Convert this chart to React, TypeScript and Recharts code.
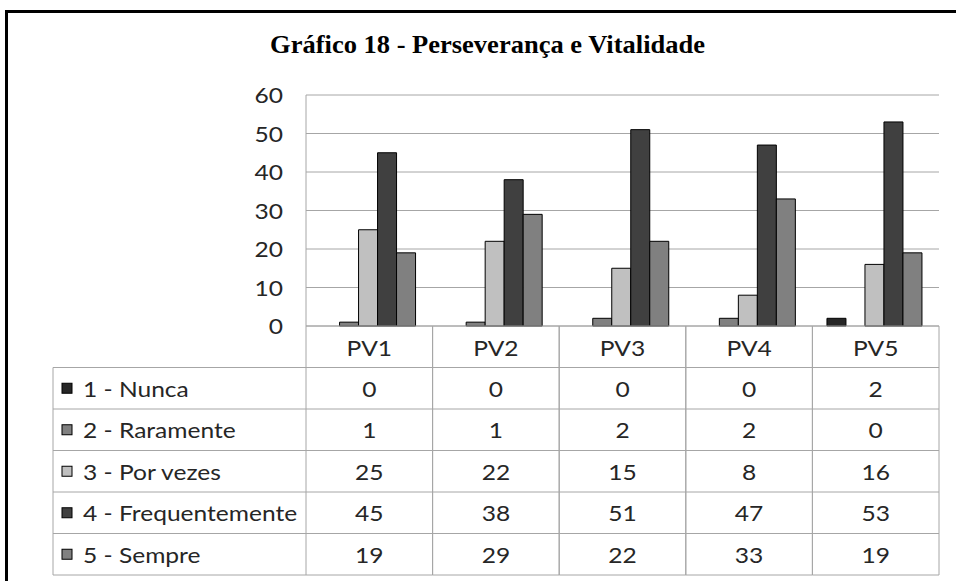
import React from 'react';
import { BarChart, Bar, XAxis, YAxis, CartesianGrid } from 'recharts';

const categories = ['PV1', 'PV2', 'PV3', 'PV4', 'PV5'];
const nunca = [0, 0, 0, 0, 2];
const raramente = [1, 1, 2, 2, 0];
const porVezes = [25, 22, 15, 8, 16];
const frequentemente = [45, 38, 51, 47, 53];
const sempre = [19, 29, 22, 33, 19];
const yTicks = [0, 10, 20, 30, 40, 50, 60];

const series = [
  { key: 'nunca', name: '1 - Nunca', values: nunca, color: '#262626' },
  { key: 'raramente', name: '2 - Raramente', values: raramente, color: '#808080' },
  { key: 'porVezes', name: '3 - Por vezes', values: porVezes, color: '#c0c0c0' },
  { key: 'frequentemente', name: '4 - Frequentemente', values: frequentemente, color: '#404040' },
  { key: 'sempre', name: '5 - Sempre', values: sempre, color: '#808080' },
];

const data = categories.map((name, i) => {
  const row: Record<string, any> = { name };
  series.forEach((s) => (row[s.key] = s.values[i]));
  return row;
});

const W = 956;
const H = 581;
const PLOT_LEFT = 306;
const PLOT_RIGHT = 939;
const PLOT_TOP = 95;
const PLOT_BOTTOM = 326;
const ROW_H = 41.5;
const LABEL_LEFT = 53;
const LINE = '#a6a6a6';
const TEXT = '#262626';
const FONT = 'Lato, "Open Sans", sans-serif';
const STRETCH = 1.17; // the source picture is stretched sideways

function Label({ x, y, anchor = 'middle', children }: any) {
  return (
    <text
      transform={`translate(${x},${y}) scale(${STRETCH},1)`}
      textAnchor={anchor}
      dominantBaseline="central"
      fontFamily={FONT}
      fontSize={21}
      fill={TEXT}
    >
      {children}
    </text>
  );
}

function YTick(props: any) {
  const { x, y, payload } = props;
  return <Label x={x} y={y} anchor="end">{payload.value}</Label>;
}

// each x tick draws one column of the data table under the plot
function TableColumn(props: any) {
  const { x, payload } = props;
  const col = categories.indexOf(payload.value);
  const bw = (PLOT_RIGHT - PLOT_LEFT) / categories.length;
  const left = x - bw / 2;
  const right = x + bw / 2;
  const bottom = PLOT_BOTTOM + ROW_H * (series.length + 1);

  return (
    <g>
      <line x1={left} x2={left} y1={PLOT_BOTTOM} y2={bottom} stroke={LINE} />
      <line x1={right} x2={right} y1={PLOT_BOTTOM} y2={bottom} stroke={LINE} />
      <Label x={x} y={PLOT_BOTTOM + ROW_H / 2 + 1}>{payload.value}</Label>
      {series.map((s, r) => {
        const top = PLOT_BOTTOM + ROW_H * (r + 1);
        return (
          <g key={s.key}>
            <line x1={left} x2={right} y1={top} y2={top} stroke={LINE} />
            <Label x={x} y={top + ROW_H / 2}>{s.values[col]}</Label>
          </g>
        );
      })}
      <line x1={left} x2={right} y1={bottom} y2={bottom} stroke={LINE} />
      {col === 0 && (
        <g>
          <line x1={LABEL_LEFT} x2={LABEL_LEFT} y1={PLOT_BOTTOM + ROW_H} y2={bottom} stroke={LINE} />
          {series.map((s, r) => {
            const top = PLOT_BOTTOM + ROW_H * (r + 1);
            return (
              <g key={s.key}>
                <line x1={LABEL_LEFT} x2={left} y1={top} y2={top} stroke={LINE} />
                <rect x={62} y={top + ROW_H / 2 - 5} width={10} height={10} fill={s.color} stroke="#000" />
                <Label x={83} y={top + ROW_H / 2} anchor="start">{s.name}</Label>
              </g>
            );
          })}
          <line x1={LABEL_LEFT} x2={left} y1={bottom} y2={bottom} stroke={LINE} />
        </g>
      )}
    </g>
  );
}

export default function App() {
  return (
    <div style={{ position: 'absolute', top: 0, left: 0, width: W, height: H, overflow: 'hidden', background: '#fff' }}>
      <div
        style={{
          position: 'absolute',
          top: 10,
          left: 5,
          width: 1000,
          height: 700,
          borderTop: '3px solid #000',
          borderLeft: '3px solid #000',
        }}
      />
      <div
        style={{
          position: 'absolute',
          top: 31,
          left: 0,
          width: 975,
          textAlign: 'center',
          fontFamily: '"Liberation Serif", serif',
          fontWeight: 'bold',
          fontSize: 25,
          color: '#000',
          whiteSpace: 'nowrap',
          transform: 'scaleX(1.06)',
          transformOrigin: '487px 0',
        }}
      >
        Gráfico 18 - Perseverança e Vitalidade
      </div>
      <div style={{ position: 'absolute', top: 0, left: 0 }}>
        <BarChart
          width={W}
          height={H}
          data={data}
          margin={{ top: PLOT_TOP, right: W - PLOT_RIGHT, left: PLOT_LEFT - 40, bottom: 0 }}
          barCategoryGap="11.5%"
          barGap={0}
        >
          <CartesianGrid vertical={false} stroke={LINE} />
          <XAxis
            dataKey="name"
            height={H - PLOT_BOTTOM}
            axisLine={{ stroke: LINE }}
            tickLine={false}
            tick={<TableColumn />}
            interval={0}
          />
          <YAxis
            width={40}
            domain={[0, 60]}
            ticks={yTicks}
            interval={0}
            axisLine={{ stroke: LINE }}
            tickLine={false}
            tickSize={0}
            tickMargin={23}
            tick={<YTick />}
          />
          {series.map((s) => (
            <Bar key={s.key} dataKey={s.key} name={s.name} fill={s.color} stroke="#000" strokeWidth={1} isAnimationActive={false} />
          ))}
        </BarChart>
      </div>
    </div>
  );
}
